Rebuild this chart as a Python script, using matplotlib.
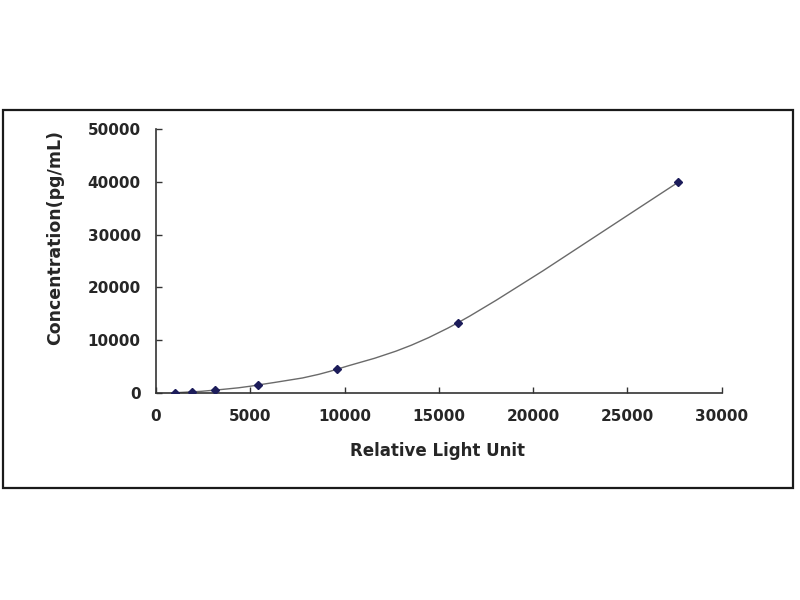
import numpy as np
import matplotlib
matplotlib.use("Agg")
import matplotlib.pyplot as plt
from matplotlib.path import Path
from matplotlib.patches import PathPatch, Rectangle

# ── data ────────────────────────────────────────────────────
rlu = [1000, 1900, 3130, 5430, 9580, 16030, 27700]
conc = [0, 165, 494, 1481, 4444, 13333, 40000]
x_ticks = [0, 5000, 10000, 15000, 20000, 25000, 30000]
y_ticks = [0, 10000, 20000, 30000, 40000, 50000]


def smooth_path(xs, ys, k=1 / 6):
    # Catmull-Rom style bezier through the points (like a smoothed line)
    pts = np.column_stack([xs, ys]).astype(float)
    verts = [pts[0]]
    codes = [Path.MOVETO]
    n = len(pts)
    for i in range(n - 1):
        p0 = pts[max(i - 1, 0)]
        p1 = pts[i]
        p2 = pts[i + 1]
        p3 = pts[min(i + 2, n - 1)]
        c1 = p1 + (p2 - p0) * k
        c2 = p2 - (p3 - p1) * k
        verts += [c1, c2, p2]
        codes += [Path.CURVE4] * 3
    return Path(verts, codes)


def main():
    plt.rcParams["font.family"] = ["DejaVu Sans"]
    text_col = "#262626"

    fig = plt.figure(figsize=(8, 6), dpi=100)
    fig.patches.append(
        Rectangle((3 / 800, 1 - 488 / 600), 790 / 800, 378 / 600,
                  transform=fig.transFigure, fill=False,
                  edgecolor="#1a1a1a", linewidth=1.6)
    )

    ax = fig.add_axes([156 / 800, 1 - 392.7 / 600, 565.7 / 800, 263.2 / 600])

    ax.add_patch(PathPatch(smooth_path(rlu, conc), fill=False,
                           edgecolor="#6a6a6a", linewidth=1.0))
    ax.plot(rlu, conc, linestyle="none", marker="D", markersize=4,
            color="#1c1c5a", zorder=3)

    ax.set_xlim(0, 30000)
    ax.set_ylim(0, 50000)
    ax.set_xticks(x_ticks)
    ax.set_yticks(y_ticks)

    for side in ("top", "right"):
        ax.spines[side].set_visible(False)
    for side in ("left", "bottom"):
        ax.spines[side].set_color("#333333")
        ax.spines[side].set_linewidth(1.2)

    ax.tick_params(axis="both", direction="in", length=4, width=1,
                   color="#333333", labelcolor=text_col, labelsize=11)
    ax.tick_params(axis="x", pad=12)
    ax.tick_params(axis="y", pad=11)
    for lab in ax.get_xticklabels() + ax.get_yticklabels():
        lab.set_fontweight("bold")

    ax.set_xlabel("Relative Light Unit", fontsize=12, fontweight="bold",
                  color=text_col)
    ax.xaxis.set_label_coords(0.497, -0.186)
    ax.set_ylabel("Concentration(pg/mL)", fontsize=12.5, fontweight="bold",
                  color=text_col)
    ax.yaxis.set_label_coords(-0.163, 0.588)

    fig.savefig("out.png", dpi=100)


if __name__ == "__main__":
    main()
